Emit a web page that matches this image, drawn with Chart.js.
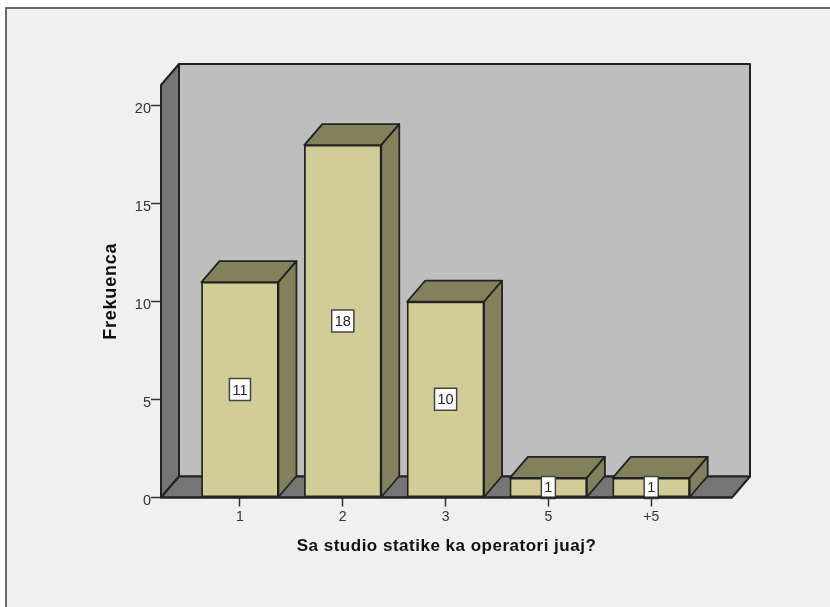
<!DOCTYPE html>
<html>
<head>
<meta charset="utf-8">
<title>Frekuenca</title>
<script src="https://cdn.jsdelivr.net/npm/chart.js@4"></script>
<style>
    html, body { margin: 0; padding: 0; background: #fff; overflow: hidden; }
    #frame {
        position: absolute; left: 5px; top: 7px; right: 0; bottom: 0;
        background: #f0f0f0;
        border-left: 2px solid #6a6a6a;
        border-top: 2px solid #6a6a6a;
    }
    #chart { position: absolute; left: 0; top: 0; }
</style>
</head>
<body>
<div id="frame"></div>
<canvas id="chart" width="830" height="607"></canvas>
<script>
const categories = ['1', '2', '3', '5', '+5'];
const frekuenca = [11, 18, 10, 1, 1];
const yTicksStep = 5;
const xTitle = 'Sa studio statike ka operatori juaj?';
const yTitle = 'Frekuenca';

// how far the back wall sits behind the front plane
const depthX = 18;
const depthY = 21;
const lineColor = '#222';

function poly(ctx, pts, fill) {
    ctx.beginPath();
    ctx.moveTo(pts[0][0], pts[0][1]);
    for (let i = 1; i < pts.length; i++) {
        ctx.lineTo(pts[i][0], pts[i][1]);
    }
    ctx.closePath();
    ctx.fillStyle = fill;
    ctx.fill();
    ctx.stroke();
}

const box3d = {
    id: 'box3d',
    // back wall, left wall and floor
    beforeDatasetsDraw(chart) {
        const { ctx, chartArea: a } = chart;
        ctx.save();
        ctx.strokeStyle = lineColor;
        ctx.lineWidth = 2;
        ctx.lineJoin = 'round';
        poly(ctx, [[a.left + depthX, a.top - depthY], [a.right + depthX, a.top - depthY],
            [a.right + depthX, a.bottom - depthY], [a.left + depthX, a.bottom - depthY]], '#bebebe');
        poly(ctx, [[a.left, a.top], [a.left + depthX, a.top - depthY],
            [a.left + depthX, a.bottom - depthY], [a.left, a.bottom]], '#757575');
        poly(ctx, [[a.left, a.bottom], [a.left + depthX, a.bottom - depthY],
            [a.right + depthX, a.bottom - depthY], [a.right, a.bottom]], '#757575');
        ctx.restore();
    },
    // top and side faces of the bars, then the value boxes
    afterDatasetsDraw(chart) {
        const { ctx } = chart;
        const bars = chart.getDatasetMeta(0).data;
        ctx.save();
        ctx.strokeStyle = lineColor;
        ctx.lineWidth = 1.8;
        ctx.lineJoin = 'round';
        bars.forEach((bar) => {
            const l = bar.x - bar.width / 2, r = bar.x + bar.width / 2;
            poly(ctx, [[l, bar.y], [l + depthX, bar.y - depthY], [r + depthX, bar.y - depthY], [r, bar.y]], '#83805c');
            poly(ctx, [[r, bar.y], [r + depthX, bar.y - depthY], [r + depthX, bar.base - depthY], [r, bar.base]], '#83805c');
        });

        ctx.font = '14.5px "Liberation Sans"';
        ctx.textAlign = 'center';
        ctx.textBaseline = 'middle';
        bars.forEach((bar, i) => {
            const text = String(frekuenca[i]);
            const w = ctx.measureText(text).width + 6;
            const mid = (bar.y + bar.base) / 2;
            ctx.fillStyle = '#fff';
            ctx.strokeStyle = '#444';
            ctx.lineWidth = 1.5;
            ctx.fillRect(bar.x - w / 2, mid - 11, w, 22);
            ctx.strokeRect(bar.x - w / 2, mid - 11, w, 22);
            ctx.fillStyle = '#222';
            ctx.fillText(text, bar.x, mid + 1);
        });
        ctx.restore();
    },
    // front edge of the floor and the spaced-out axis titles
    afterDraw(chart) {
        const { ctx, chartArea: a } = chart;
        ctx.save();
        ctx.strokeStyle = lineColor;
        ctx.lineWidth = 2;
        ctx.beginPath();
        ctx.moveTo(a.left, a.bottom);
        ctx.lineTo(a.right, a.bottom);
        ctx.stroke();

        ctx.fillStyle = '#111';
        ctx.textAlign = 'center';
        ctx.textBaseline = 'middle';
        ctx.font = 'bold 17px "Liberation Sans"';
        ctx.letterSpacing = '0.5px';
        ctx.fillText(xTitle, (a.left + a.right) / 2, 546);

        ctx.font = 'bold 18px "Liberation Sans"';
        ctx.letterSpacing = '0.8px';
        ctx.translate(111, (a.top + a.bottom) / 2);
        ctx.rotate(-Math.PI / 2);
        ctx.fillText(yTitle, 0, 0);
        ctx.restore();
    }
};

new Chart(document.querySelector('#chart'), {
    type: 'bar',
    data: {
        datasets: [{
            label: yTitle,
            data: frekuenca.map((v, i) => ({ x: i, y: v })),
            backgroundColor: '#d2cd96',
            borderColor: lineColor,
            borderWidth: 1.8,
            borderSkipped: false,
            barThickness: 77
        }]
    },
    options: {
        responsive: false,
        animation: false,
        layout: { padding: { top: 85, right: 98, left: 0, bottom: 0 } },
        plugins: { legend: { display: false }, tooltip: { enabled: false } },
        scales: {
            x: {
                type: 'linear',
                offset: false,
                min: -0.768,
                max: 4.786,
                afterFit(scale) { scale.height = 109.5; },
                grid: { offset: false, drawOnChartArea: false, tickLength: 9, tickColor: '#333', tickWidth: 1.5 },
                border: { display: false },
                ticks: {
                    stepSize: 1,
                    includeBounds: false,
                    autoSkip: false,
                    maxRotation: 0,
                    padding: 2,
                    color: '#333',
                    font: { family: 'Liberation Sans', size: 14 },
                    callback: (v) => categories[v]
                }
            },
            y: {
                min: 0,
                max: 21.07,
                afterFit(scale) { scale.width = 161; },
                grid: { drawOnChartArea: false, tickLength: 10, tickColor: '#333', tickWidth: 1.5 },
                border: { display: false },
                ticks: {
                    stepSize: yTicksStep,
                    includeBounds: false,
                    padding: 0,
                    labelOffset: 3,
                    color: '#333',
                    font: { family: 'Liberation Sans', size: 14.5 }
                }
            }
        }
    },
    plugins: [box3d]
});
</script>
</body>
</html>
